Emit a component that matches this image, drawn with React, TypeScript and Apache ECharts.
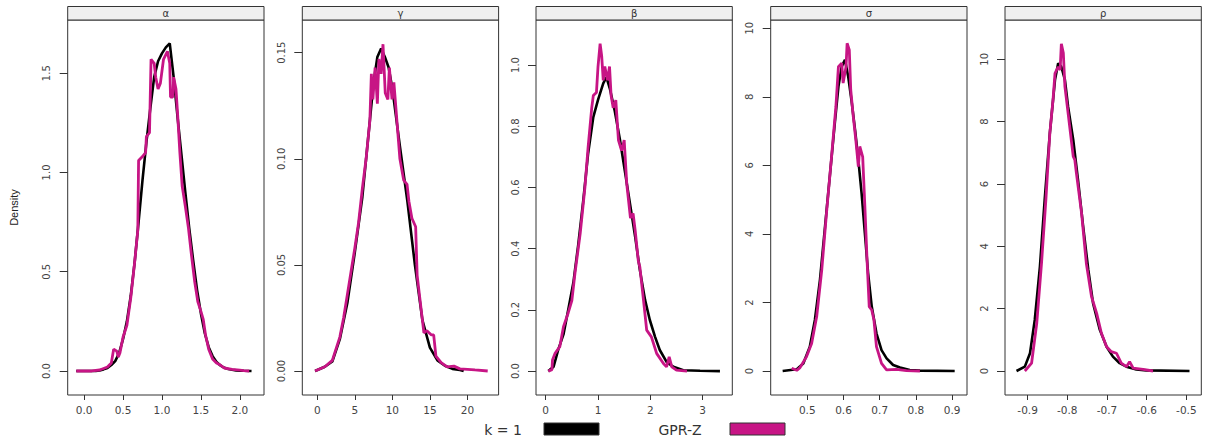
import React, { useEffect, useRef } from "react";
import * as echarts from "echarts";

// ---------- data ----------
const panelNames = ["α", "γ", "β", "σ", "ρ"];
const seriesNames = ["k = 1", "GPR-Z"];

const alphaK1 = [[-0.1,0],[0,0],[0.1,0],[0.15,0],[0.2,0.003],[0.25,0.008],[0.3,0.015],[0.35,0.03],[0.4,0.05],[0.45,0.09],[0.5,0.16],[0.55,0.25],[0.6,0.38],[0.65,0.55],[0.7,0.75],[0.75,0.96],[0.8,1.15],[0.85,1.32],[0.9,1.48],[0.95,1.56],[1.0,1.6],[1.05,1.63],[1.1,1.65],[1.15,1.48],[1.2,1.28],[1.25,1.09],[1.3,0.9],[1.35,0.72],[1.4,0.56],[1.45,0.41],[1.5,0.29],[1.55,0.19],[1.6,0.12],[1.65,0.075],[1.7,0.045],[1.75,0.028],[1.8,0.016],[1.85,0.01],[1.9,0.006],[1.95,0.003],[2.0,0.002],[2.05,0.001],[2.15,0]];
const alphaGPR = [[-0.1,0],[0.1,0],[0.2,0.005],[0.3,0.02],[0.35,0.04],[0.38,0.11],[0.42,0.1],[0.44,0.07],[0.46,0.09],[0.5,0.17],[0.55,0.23],[0.6,0.37],[0.65,0.55],[0.69,0.71],[0.7,1.06],[0.75,1.08],[0.79,1.1],[0.8,1.18],[0.84,1.2],[0.86,1.57],[0.9,1.55],[0.92,1.48],[0.95,1.42],[0.98,1.45],[1.02,1.57],[1.07,1.61],[1.1,1.55],[1.11,1.38],[1.14,1.38],[1.15,1.48],[1.18,1.42],[1.2,1.3],[1.23,1.1],[1.26,0.93],[1.3,0.83],[1.34,0.72],[1.38,0.58],[1.42,0.45],[1.46,0.35],[1.5,0.3],[1.53,0.26],[1.56,0.18],[1.6,0.11],[1.65,0.06],[1.7,0.04],[1.75,0.03],[1.8,0.015],[1.9,0.008],[2.0,0.004],[2.05,0.002],[2.12,0]];

const gammaK1 = [[-0.3,0],[1,0.002],[2,0.0045],[3,0.015],[4,0.032],[5,0.056],[6,0.082],[7,0.118],[7.5,0.136],[8,0.148],[8.5,0.152],[9,0.148],[9.5,0.143],[10,0.133],[11,0.106],[12,0.08],[13,0.05],[14,0.024],[15,0.011],[16,0.005],[17,0.0025],[18,0.001],[19,0.0005],[19.5,0]];
const gammaGPR = [[-0.3,0],[1,0.002],[2,0.005],[3,0.016],[3.5,0.025],[4,0.036],[4.5,0.047],[5,0.058],[5.5,0.07],[6,0.086],[6.5,0.1],[7,0.118],[7.2,0.14],[7.4,0.128],[7.7,0.143],[8,0.126],[8.2,0.147],[8.5,0.14],[8.75,0.154],[9.05,0.131],[9.4,0.128],[9.6,0.143],[9.95,0.128],[10.2,0.136],[10.6,0.118],[11,0.1],[11.5,0.09],[11.95,0.088],[12.2,0.08],[12.6,0.072],[13.1,0.068],[13.3,0.045],[13.8,0.03],[14.2,0.018],[14.6,0.019],[15.2,0.017],[15.5,0.017],[15.8,0.007],[16.5,0.004],[17.3,0.002],[18.2,0.0023],[19,0.001],[20,0.0008],[21,0.0005],[22.7,0]];

const betaK1 = [[0.05,0],[0.15,0.014],[0.24,0.07],[0.34,0.12],[0.43,0.2],[0.53,0.29],[0.62,0.41],[0.72,0.56],[0.81,0.71],[0.91,0.83],[1.0,0.886],[1.1,0.94],[1.16,0.96],[1.23,0.92],[1.32,0.85],[1.42,0.755],[1.51,0.657],[1.61,0.548],[1.71,0.439],[1.8,0.33],[1.9,0.232],[1.99,0.167],[2.09,0.112],[2.18,0.069],[2.31,0.03],[2.44,0.014],[2.63,0.003],[2.95,0.001],[3.33,0]];
const betaGPR = [[0.05,0],[0.12,0.005],[0.13,0.036],[0.18,0.058],[0.27,0.08],[0.34,0.145],[0.43,0.19],[0.5,0.23],[0.56,0.32],[0.66,0.45],[0.75,0.6],[0.81,0.73],[0.88,0.86],[0.91,0.9],[0.97,0.91],[1.0,0.995],[1.04,1.07],[1.07,1.03],[1.1,0.95],[1.13,0.995],[1.18,0.95],[1.22,0.995],[1.25,0.9],[1.29,0.86],[1.34,0.885],[1.39,0.755],[1.45,0.72],[1.5,0.755],[1.55,0.61],[1.62,0.5],[1.67,0.515],[1.71,0.46],[1.77,0.36],[1.8,0.34],[1.87,0.23],[1.93,0.134],[2.02,0.112],[2.12,0.058],[2.25,0.025],[2.31,0.014],[2.36,0.047],[2.41,0.014],[2.5,0.003],[2.7,0]];

const sigmaK1 = [[0.432,0],[0.471,0.05],[0.489,0.22],[0.507,0.71],[0.521,1.49],[0.535,2.66],[0.549,4.21],[0.563,5.77],[0.576,7.23],[0.586,8.3],[0.595,8.88],[0.604,9.08],[0.613,8.59],[0.622,7.9],[0.632,7.03],[0.641,6.16],[0.65,5.18],[0.659,4.02],[0.668,2.85],[0.678,1.88],[0.691,1.1],[0.705,0.61],[0.719,0.37],[0.737,0.175],[0.756,0.1],[0.783,0.03],[0.811,0.01],[0.907,0]];
const sigmaGPR = [[0.457,0.08],[0.471,0.02],[0.48,0.1],[0.498,0.42],[0.512,0.8],[0.526,1.59],[0.54,2.95],[0.553,4.6],[0.567,6.25],[0.579,7.71],[0.586,8.88],[0.595,8.98],[0.599,8.4],[0.607,8.88],[0.61,9.56],[0.616,9.37],[0.62,8.2],[0.627,7.42],[0.634,6.74],[0.641,5.96],[0.645,6.55],[0.653,6.25],[0.659,4.8],[0.665,3.24],[0.671,1.88],[0.678,1.78],[0.684,1.49],[0.691,0.71],[0.705,0.22],[0.719,0.03],[0.746,0.05],[0.774,0.01],[0.811,0]];

const rhoK1 = [[-0.928,0],[-0.907,0.14],[-0.894,0.57],[-0.882,1.64],[-0.869,3.35],[-0.857,5.49],[-0.844,7.63],[-0.831,9.34],[-0.823,9.87],[-0.815,9.76],[-0.806,9.34],[-0.798,8.48],[-0.785,7.41],[-0.773,6.13],[-0.76,4.63],[-0.747,3.24],[-0.735,2.17],[-0.718,1.32],[-0.701,0.78],[-0.685,0.46],[-0.668,0.25],[-0.651,0.14],[-0.626,0.05],[-0.601,0.02],[-0.492,0]];
const rhoGPR = [[-0.907,0],[-0.89,0.25],[-0.877,1.53],[-0.865,3.45],[-0.854,5.49],[-0.844,7.63],[-0.836,8.7],[-0.831,9.55],[-0.823,9.76],[-0.818,9.66],[-0.815,10.5],[-0.81,10.2],[-0.806,9.12],[-0.798,8.27],[-0.785,6.88],[-0.781,6.77],[-0.777,6.34],[-0.764,5.06],[-0.752,3.45],[-0.739,2.39],[-0.726,1.85],[-0.714,1.21],[-0.701,0.78],[-0.689,0.62],[-0.676,0.57],[-0.664,0.25],[-0.651,0.14],[-0.643,0.3],[-0.634,0.09],[-0.609,0.05],[-0.584,0]];

const k1Data = [alphaK1, gammaK1, betaK1, sigmaK1, rhoK1];
const gprData = [alphaGPR, gammaGPR, betaGPR, sigmaGPR, rhoGPR];

const xTicks = [[0, 0.5, 1, 1.5, 2], [0, 5, 10, 15, 20], [0, 1, 2, 3], [0.5, 0.6, 0.7, 0.8, 0.9], [-0.9, -0.8, -0.7, -0.6, -0.5]];
const xDecimals = [1, 0, 0, 1, 1];
const yTicks = [[0, 0.5, 1, 1.5], [0, 0.05, 0.1, 0.15], [0, 0.2, 0.4, 0.6, 0.8, 1.0], [0, 2, 4, 6, 8, 10], [0, 2, 4, 6, 8, 10]];
const yDecimals = [1, 2, 1, 0, 0];
const xRanges = [[-0.21, 2.31], [-2.0, 24.15], [-0.185, 3.566], [0.399, 0.941], [-0.957, -0.4623]];
const yRanges = [[-0.121, 1.768], [-0.0113, 0.1654], [-0.078, 1.147], [-0.70, 10.24], [-0.77, 11.26]];

// ---------- layout ----------
const W = 1208;
const H = 439;
const LEFTS = [67.7, 302.3, 536, 770.7, 1005];
const PW = 196.3;
const TOP = 20;
const BOTTOM = 395;
const STRIP_TOP = 6.5;
const BLACK = "#000000";
const MAGENTA = "#C71585";
const TICK_COLOR = "#444444";
const LEGEND_Y = 423;
const LEGEND_ITEMS = [
  { textX: 503, boxX: 544 },
  { textX: 680, boxX: 730 },
];

export default function App() {
  const ref = useRef<HTMLDivElement>(null);
  useEffect(() => {
    if (!ref.current) return;
    const chart = echarts.init(ref.current, undefined, { renderer: "svg" });

    const grids = LEFTS.map((l) => ({
      left: l,
      width: PW,
      top: TOP,
      height: BOTTOM - TOP,
      show: true,
      borderColor: "#333",
      borderWidth: 1,
      backgroundColor: "transparent",
      containLabel: false,
      outerBoundsMode: "none",
    }));

    const xAxes = LEFTS.map((_, i) => ({
      type: "value",
      gridIndex: i,
      min: xRanges[i][0],
      max: xRanges[i][1],
      axisLine: { show: false, onZero: false },
      splitLine: { show: false },
      axisTick: { show: true, length: 5, lineStyle: { color: "#333" }, customValues: xTicks[i] },
      axisLabel: {
        customValues: xTicks[i],
        margin: 9,
        fontSize: 10.5,
        fontFamily: "DejaVu Sans",
        color: TICK_COLOR,
        formatter: (v: number) => v.toFixed(xDecimals[i]),
      },
    }));

    const yAxes = LEFTS.map((_, i) => ({
      type: "value",
      gridIndex: i,
      min: yRanges[i][0],
      max: yRanges[i][1],
      name: i === 0 ? "Density" : "",
      nameLocation: "middle",
      nameGap: 48,
      nameTextStyle: { fontSize: 11, fontFamily: "Liberation Sans", color: "#222" },
      axisLine: { show: false, onZero: false },
      splitLine: { show: false },
      axisTick: { show: true, length: 8, lineStyle: { color: "#333" }, customValues: yTicks[i] },
      axisLabel: {
        customValues: yTicks[i],
        rotate: 90,
        margin: 16,
        fontSize: 10,
        fontFamily: "DejaVu Sans",
        color: TICK_COLOR,
        formatter: (v: number) => v.toFixed(yDecimals[i]),
      },
    }));

    const series: any[] = [];
    LEFTS.forEach((_, i) => {
      series.push({
        name: seriesNames[0],
        type: "line",
        xAxisIndex: i,
        yAxisIndex: i,
        data: k1Data[i],
        showSymbol: false,
        symbol: "none",
        lineStyle: { color: BLACK, width: 2.6 },
        itemStyle: { color: BLACK },
        z: 2,
      });
      series.push({
        name: seriesNames[1],
        type: "line",
        xAxisIndex: i,
        yAxisIndex: i,
        data: gprData[i],
        showSymbol: false,
        symbol: "none",
        lineStyle: { color: MAGENTA, width: 2.8 },
        itemStyle: { color: MAGENTA },
        z: 3,
      });
    });

    const graphics: any[] = [];
    LEFTS.forEach((l, i) => {
      graphics.push({
        type: "rect",
        shape: { x: l, y: STRIP_TOP, width: PW, height: TOP - STRIP_TOP },
        style: { fill: "#F0F0F0", stroke: "#333", lineWidth: 1 },
        z: 10,
      });
      graphics.push({
        type: "text",
        x: l + PW / 2,
        y: (STRIP_TOP + TOP) / 2 + 0.5,
        style: {
          text: panelNames[i],
          fontSize: 10,
          fontFamily: "DejaVu Sans",
          fill: "#333",
          align: "center",
          verticalAlign: "middle",
        },
        z: 11,
      });
    });
    // legend (key) drawn below the panels
    LEGEND_ITEMS.forEach((it, i) => {
      graphics.push({
        type: "text",
        x: it.textX,
        y: LEGEND_Y + 6.5,
        style: {
          text: seriesNames[i],
          fontSize: 14,
          fontFamily: "DejaVu Sans",
          fill: "#333",
          align: "center",
          verticalAlign: "middle",
        },
        z: 11,
      });
      graphics.push({
        type: "rect",
        shape: { x: it.boxX, y: LEGEND_Y, width: 55, height: 12 },
        style: { fill: i === 0 ? BLACK : MAGENTA, stroke: "#333", lineWidth: 1 },
        z: 11,
      });
    });

    chart.setOption({
      animation: false,
      backgroundColor: "#ffffff",
      grid: grids,
      xAxis: xAxes,
      yAxis: yAxes,
      series,
      graphic: graphics,
    });

    return () => chart.dispose();
  }, []);

  return (
    <div
      ref={ref}
      style={{ position: "absolute", left: 0, top: 0, width: W, height: H }}
    />
  );
}
